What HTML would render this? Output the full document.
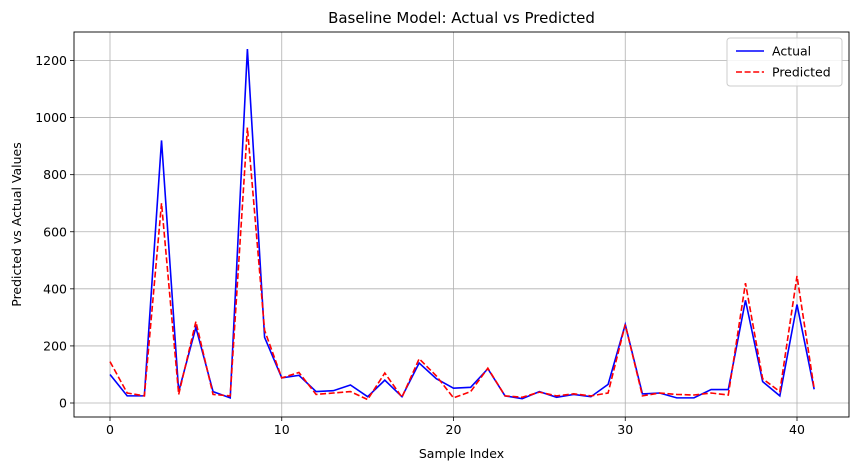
<!DOCTYPE html>
<html><head><meta charset="utf-8"><style>
body{margin:0;background:#fff;font-family:"Liberation Sans","DejaVu Sans",sans-serif}
svg text{font-family:"DejaVu Sans","Liberation Sans",sans-serif}
</style></head><body>
<svg id="chart" width="859" height="470" xmlns="http://www.w3.org/2000/svg"></svg>
<script>
const actualValues=[100,25,25,920,40,265,40,18,1240,230,88,97,40,43,63,22,80,22,140,85,52,55,120,25,15,40,20,30,22,65,275,32,35,18,18,47,47,360,75,25,345,48];
const predictedValues=[145,35,25,700,30,285,30,25,965,255,88,107,30,35,40,12,105,20,155,95,18,40,122,25,20,38,25,32,25,35,275,25,35,30,28,35,28,420,85,40,445,50];
const xTicks=[0,10,20,30,40];
const yTicks=[0,200,400,600,800,1000,1200];
const NS="http://www.w3.org/2000/svg";
const svg=document.getElementById('chart');
const L=74,R=849,T=32,B=417;
const sx=v=>110+v*(797-110)/40;
const sy=v=>403-v*(403-60.5)/1200;
function mk(tag,at,parent){const e=document.createElementNS(NS,tag);for(const k in at)e.setAttribute(k,at[k]);(parent||svg).appendChild(e);return e;}
// grid
xTicks.forEach(t=>{const g=mk('line',{x1:sx(t),x2:sx(t),y1:T,y2:B,stroke:'#b0b0b0','stroke-width':0.8});


const tk=mk('line',{x1:sx(t),x2:sx(t),y1:B,y2:B+4,stroke:'#000','stroke-width':0.8});


const tx=mk('text',{x:sx(t),y:B+17,'text-anchor':'middle','font-size':12.5});tx.textContent=t;

});
yTicks.forEach(t=>{const g=mk('line',{x1:L,x2:R,y1:sy(t),y2:sy(t),stroke:'#b0b0b0','stroke-width':0.8});


const tk=mk('line',{x1:L-4,x2:L,y1:sy(t),y2:sy(t),stroke:'#000','stroke-width':0.8});


const tx=mk('text',{x:L-7,y:sy(t)+4.5,'text-anchor':'end','font-size':12.5});tx.textContent=t;

});
function line(vals,color,dash,name){const p=mk('polyline',{points:vals.map((v,i)=>sx(i)+','+sy(v)).join(' '),fill:'none',stroke:color,'stroke-width':1.6,'stroke-dasharray':dash||'none'});

}
line(actualValues,'#0000ff',null,'actual-line');
line(predictedValues,'#ff0000','6,2.6','predicted-line');
const fr=mk('rect',{x:L,y:T,width:R-L,height:B-T,fill:'none',stroke:'#000','stroke-width':0.9});


const ti=mk('text',{x:(L+R)/2,y:23,'text-anchor':'middle','font-size':15});ti.textContent='Baseline Model: Actual vs Predicted';


const xl=mk('text',{x:(L+R)/2,y:458,'text-anchor':'middle','font-size':12.5});xl.textContent='Sample Index';


const yl=mk('text',{x:21,y:(T+B)/2,'text-anchor':'middle','font-size':12.5,transform:`rotate(-90 21 ${(T+B)/2})`});yl.textContent='Predicted vs Actual Values';


const lg=mk('g',{});


mk('rect',{x:727,y:38,width:115,height:48,rx:3,fill:'#fff','fill-opacity':0.85,stroke:'#ccc'},lg);
mk('line',{x1:736,x2:764,y1:51,y2:51,stroke:'#0000ff','stroke-width':1.6},lg);
mk('line',{x1:736,x2:764,y1:72,y2:72,stroke:'#ff0000','stroke-width':1.6,'stroke-dasharray':'6,2.6'},lg);
const t1=mk('text',{x:772,y:55.5,'font-size':12.5},lg);t1.textContent='Actual';


const t2=mk('text',{x:772,y:76.5,'font-size':12.5},lg);t2.textContent='Predicted';


</script>
</body></html>
